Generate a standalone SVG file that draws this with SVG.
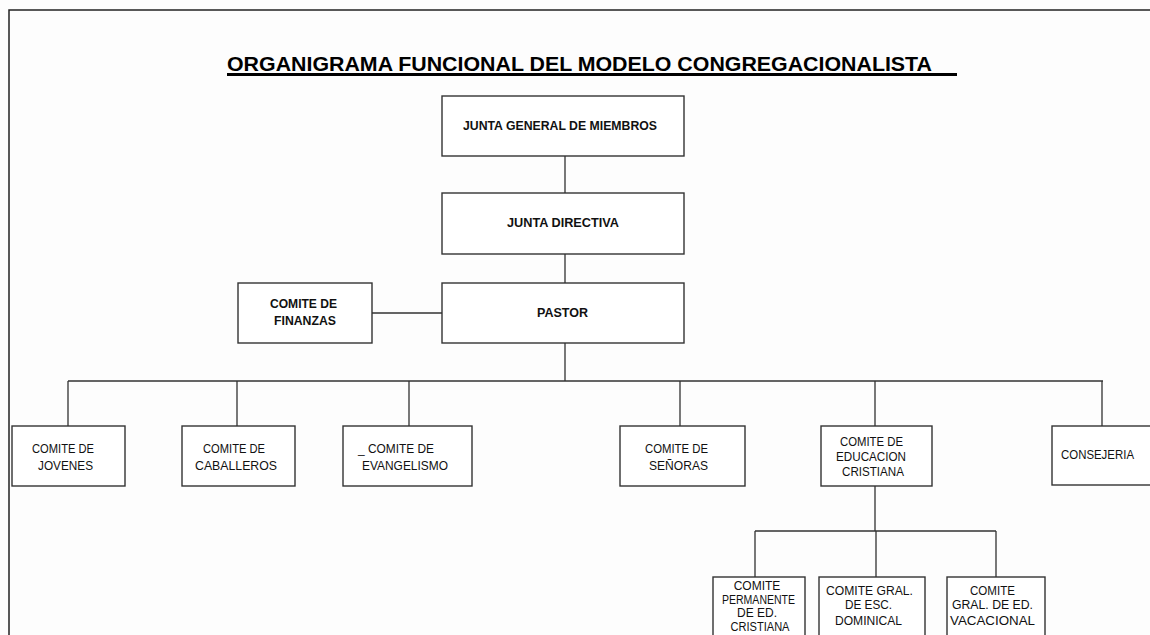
<svg xmlns="http://www.w3.org/2000/svg" width="1150" height="635" viewBox="0 0 1150 635">
<style>
.bx{fill:#fff;stroke:#333;stroke-width:1.4}
.cn{fill:none;stroke:#333;stroke-width:1.3}
.b{font-family:"Liberation Sans",Arial,sans-serif;font-weight:bold;font-size:13.5px;fill:#111;text-anchor:middle}
.n{font-family:"Liberation Sans",Arial,sans-serif;font-size:13px;fill:#111;text-anchor:middle}
.s{font-family:"Liberation Sans",Arial,sans-serif;font-size:12px;fill:#111;text-anchor:middle}
</style>
<rect width="1150" height="635" fill="#fdfdfd"/>
<path d="M9,635 V10 H1150" fill="none" stroke="#222" stroke-width="1.5"/>
<g id="title">
<text x="227" y="71" font-family="'Liberation Sans',Arial,sans-serif" font-weight="bold" font-size="19.5" fill="#000" textLength="705" lengthAdjust="spacingAndGlyphs">ORGANIGRAMA FUNCIONAL DEL MODELO CONGREGACIONALISTA</text>
<rect x="227" y="73" width="730" height="3" fill="#000"/>
</g>
<g id="connectors">
<path class="cn" d="M565,156 V193 M565,254 V283 M372,313 H442 M565,343 V381 M68,381 H1103 M68,381 V426 M237,381 V426 M409,381 V426 M680,381 V426 M875,381 V426 M1102,381 V426 M875,486 V531 M755,531 H996 M755,531 V577 M876,531 V577 M996,531 V577"/>
</g>
<g id="n-junta-general"><rect class="bx" x="442" y="96" width="242" height="60"/><text class="b" x="560" y="130" textLength="194" lengthAdjust="spacingAndGlyphs">JUNTA GENERAL DE MIEMBROS</text></g>
<g id="n-junta-directiva"><rect class="bx" x="442" y="193" width="242" height="61"/><text class="b" x="563" y="227" textLength="112" lengthAdjust="spacingAndGlyphs">JUNTA DIRECTIVA</text></g>
<g id="n-pastor"><rect class="bx" x="442" y="283" width="242" height="60"/><text class="b" x="562.5" y="317" textLength="51" lengthAdjust="spacingAndGlyphs">PASTOR</text></g>
<g id="n-finanzas"><rect class="bx" x="238" y="283" width="134" height="60"/><text class="b" x="303.5" y="308" textLength="67" lengthAdjust="spacingAndGlyphs">COMITE DE</text><text class="b" x="305" y="325" textLength="62" lengthAdjust="spacingAndGlyphs">FINANZAS</text></g>
<g id="n-jovenes"><rect class="bx" x="12" y="426" width="113" height="60"/><text class="n" x="63" y="453" textLength="62" lengthAdjust="spacingAndGlyphs">COMITE DE</text><text class="n" x="65.5" y="470" textLength="55" lengthAdjust="spacingAndGlyphs">JOVENES</text></g>
<g id="n-caballeros"><rect class="bx" x="182" y="426" width="113" height="60"/><text class="n" x="234" y="453" textLength="62" lengthAdjust="spacingAndGlyphs">COMITE DE</text><text class="n" x="236" y="470" textLength="82" lengthAdjust="spacingAndGlyphs">CABALLEROS</text></g>
<g id="n-evangelismo"><rect class="bx" x="343" y="426" width="129" height="60"/><text class="n" x="396" y="453" textLength="76" lengthAdjust="spacingAndGlyphs">_ COMITE DE</text><text class="n" x="405" y="470" textLength="86" lengthAdjust="spacingAndGlyphs">EVANGELISMO</text></g>
<g id="n-senoras"><rect class="bx" x="620" y="426" width="125" height="60"/><text class="n" x="676.5" y="453" textLength="63" lengthAdjust="spacingAndGlyphs">COMITE DE</text><text class="n" x="678.5" y="470" textLength="59" lengthAdjust="spacingAndGlyphs">SEÑORAS</text></g>
<g id="n-educacion"><rect class="bx" x="821" y="426" width="111" height="60"/><text class="n" x="871.5" y="446" textLength="63" lengthAdjust="spacingAndGlyphs">COMITE DE</text><text class="n" x="871" y="461" textLength="70" lengthAdjust="spacingAndGlyphs">EDUCACION</text><text class="n" x="873" y="476" textLength="62" lengthAdjust="spacingAndGlyphs">CRISTIANA</text></g>
<g id="n-consejeria"><rect class="bx" x="1052" y="426" width="110" height="59"/><text class="n" x="1097.5" y="459" textLength="73" lengthAdjust="spacingAndGlyphs">CONSEJERIA</text></g>
<g id="n-permanente"><rect class="bx" x="713" y="577" width="92" height="70"/><text class="s" x="757" y="590" font-size="11">COMITE</text><text class="s" x="758.5" y="604" font-size="11" textLength="73" lengthAdjust="spacingAndGlyphs">PERMANENTE</text><text class="s" x="757" y="617" font-size="11">DE ED.</text><text class="s" x="760" y="631" font-size="11" textLength="59" lengthAdjust="spacingAndGlyphs">CRISTIANA</text></g>
<g id="n-dominical"><rect class="bx" x="819" y="577" width="106" height="70"/><text class="s" x="869.5" y="595" textLength="87" lengthAdjust="spacingAndGlyphs">COMITE GRAL.</text><text class="s" x="868.5" y="609" textLength="47" lengthAdjust="spacingAndGlyphs">DE ESC.</text><text class="s" x="868.5" y="625" textLength="67" lengthAdjust="spacingAndGlyphs">DOMINICAL</text></g>
<g id="n-vacacional"><rect class="bx" x="947" y="577" width="98" height="70"/><text class="s" x="992.5" y="595" textLength="45" lengthAdjust="spacingAndGlyphs">COMITE</text><text class="s" x="992.5" y="609" textLength="81" lengthAdjust="spacingAndGlyphs">GRAL. DE ED.</text><text class="s" x="992.5" y="625" textLength="85" lengthAdjust="spacingAndGlyphs">VACACIONAL</text></g>
</svg>
